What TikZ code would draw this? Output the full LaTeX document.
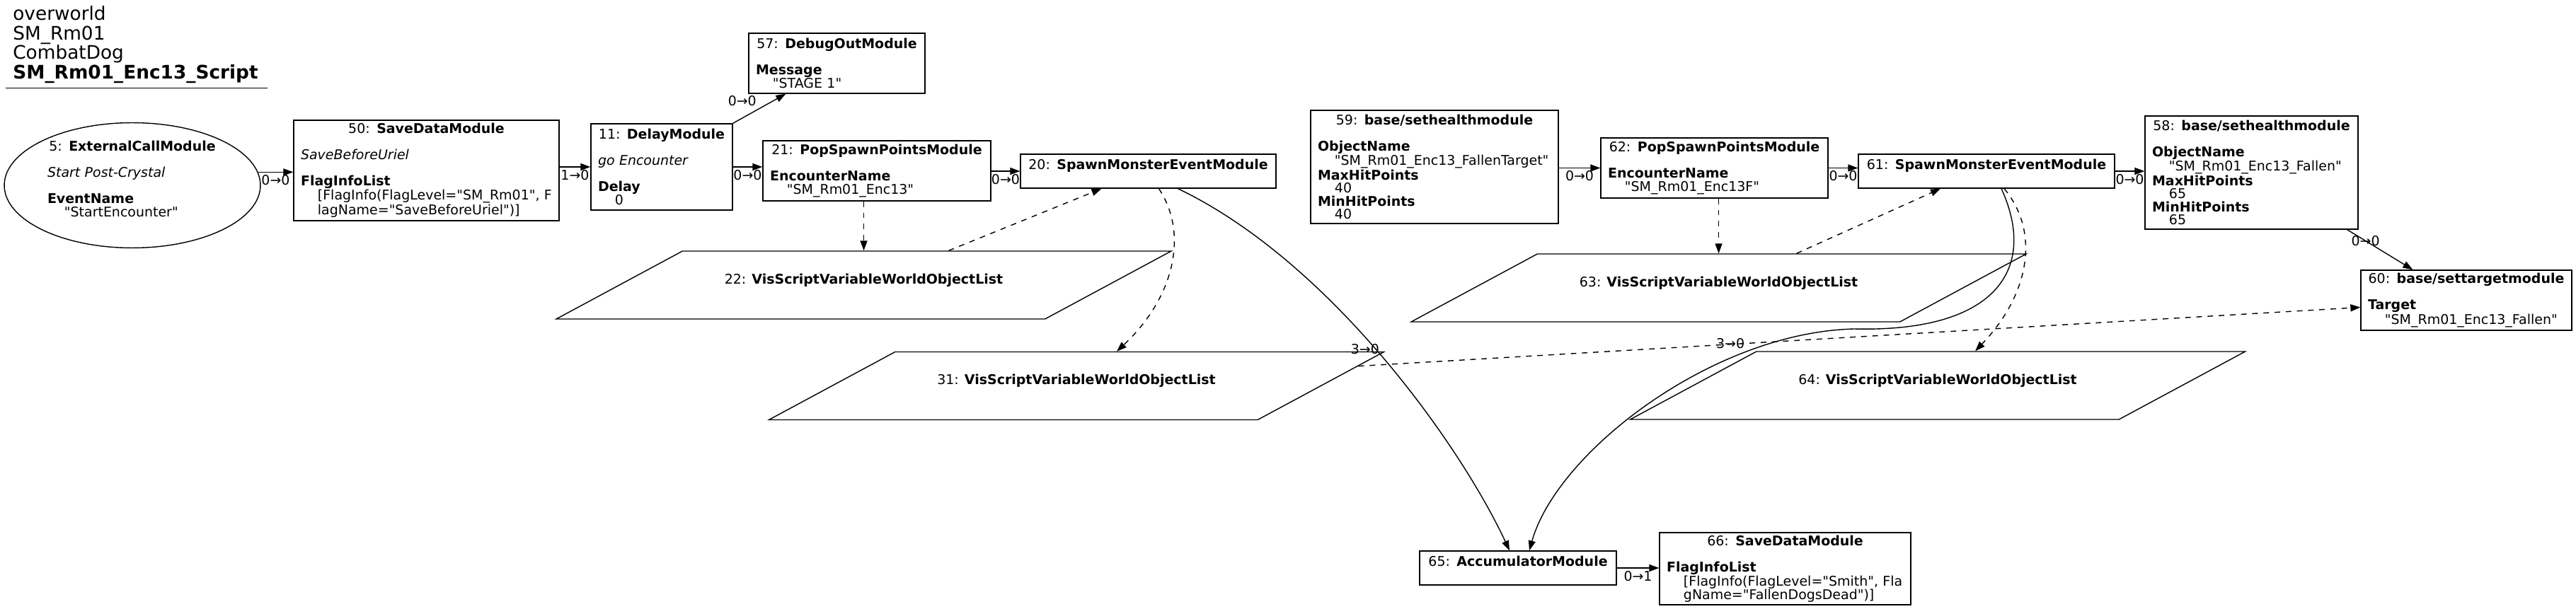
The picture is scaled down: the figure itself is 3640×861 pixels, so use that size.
\documentclass[tikz,border=0pt]{standalone}
\usepackage{fontspec}
\setmainfont{DejaVu Sans}[Ligatures=TeXOff]
\usepackage{tikz}
\usetikzlibrary{shapes.geometric,arrows.meta,calc}
\newcommand{\nodefont}{\fontsize{10.8pt}{10.5pt}\selectfont}
\newcommand{\ttl}[1]{\makebox[\hsize]{#1}}
\newcommand{\pv}[1]{\hspace*{13.6pt}\mbox{#1}}

\begin{document}
\begin{tikzpicture}[x=0.02cm, y=-0.02cm, >={Triangle[length=0.28cm,width=0.2cm]},
  every node/.style={font=\nodefont},
  module/.style 2 args={draw, line width=0.8pt, inner xsep=0.2cm, inner ysep=0pt, align=left, text width=#1, minimum height=#2},
  vislist/.style={draw, line width=0.8pt, trapezium, trapezium left angle=28.3, trapezium right angle=151.7, trapezium stretches body, minimum width=17.38cm, inner xsep=0pt, inner ysep=18.2pt, text height=8pt, text depth=10.2pt},
  link/.style={->, line width=0.8pt},
  varlink/.style={link, dash pattern=on 4.5pt off 4.5pt},
  port/.style={inner sep=2pt}]
\useasboundingbox (0,0) rectangle (3640,861);

\node[anchor=north west, align=left, inner sep=0pt, font=\fontsize{15pt}{15.8pt}\selectfont] (title) at (18,8) {overworld\\SM\_Rm01\\CombatDog\\\textbf{SM\_Rm01\_Enc13\_Script}};
\draw[line width=0.8pt] ($(title.south west)+(-10,6)$) -- ($(title.south east)+(13,6)$);

\node[draw, ellipse, line width=0.8pt, minimum width=7.24cm, minimum height=3.08cm, inner sep=0pt, text width=4.8cm, align=left] (n5) at (187,262) {\ttl{5: \textbf{ExternalCallModule}}\\[\baselineskip]\textit{Start Post-Crystal}\\[\baselineskip]\textbf{EventName}\\\pv{"StartEncounter"}\\\mbox{}};
\node[module={7.10cm}{2.84cm}] (n50) at (602.5,241) {\ttl{50: \textbf{SaveDataModule}}\\[\baselineskip]\textit{SaveBeforeUriel}\\[\baselineskip]\textbf{FlagInfoList}\\\pv{[FlagInfo(FlagLevel="SM\_Rm01", F}\\\pv{lagName="SaveBeforeUriel")]}};
\node[module={3.60cm}{2.44cm}] (n11) at (935,236) {\ttl{11: \textbf{DelayModule}}\\[\baselineskip]\textit{go Encounter}\\[\baselineskip]\textbf{Delay}\\\pv{0}};
\node[module={4.58cm}{1.70cm}] (n57) at (1182.5,89.5) {\ttl{57: \textbf{DebugOutModule}}\\[\baselineskip]\textbf{Message}\\\pv{"STAGE 1"}};
\node[module={6.04cm}{1.70cm}] (n21) at (1239,241.5) {\ttl{21: \textbf{PopSpawnPointsModule}}\\[\baselineskip]\textbf{EncounterName}\\\pv{"SM\_Rm01\_Enc13"}};
\node[module={6.82cm}{0.96cm}] (n20) at (1622.5,242) {\ttl{20: \textbf{SpawnMonsterEventModule}}\\\mbox{}};
\node[vislist] (n22) at (1220.5,403) {22: \textbf{VisScriptVariableWorldObjectList}};
\node[vislist] (n31) at (1521,545.5) {31: \textbf{VisScriptVariableWorldObjectList}};
\node[module={6.60cm}{3.20cm}] (n59) at (2027,236) {\ttl{59: \textbf{base/sethealthmodule}}\\[\baselineskip]\textbf{ObjectName}\\\pv{"SM\_Rm01\_Enc13\_FallenTarget"}\\\textbf{MaxHitPoints}\\\pv{40}\\\textbf{MinHitPoints}\\\pv{40}};
\node[module={6.02cm}{1.70cm}] (n62) at (2422.5,237.5) {\ttl{62: \textbf{PopSpawnPointsModule}}\\[\baselineskip]\textbf{EncounterName}\\\pv{"SM\_Rm01\_Enc13F"}};
\node[module={6.84cm}{0.96cm}] (n61) at (2807,242) {\ttl{61: \textbf{SpawnMonsterEventModule}}\\\mbox{}};
\node[module={5.62cm}{3.20cm}] (n58) at (3181.5,244) {\ttl{58: \textbf{base/sethealthmodule}}\\[\baselineskip]\textbf{ObjectName}\\\pv{"SM\_Rm01\_Enc13\_Fallen"}\\\textbf{MaxHitPoints}\\\pv{65}\\\textbf{MinHitPoints}\\\pv{65}};
\node[module={5.56cm}{1.70cm}] (n60) at (3485,424.5) {\ttl{60: \textbf{base/settargetmodule}}\\[\baselineskip]\textbf{Target}\\\pv{"SM\_Rm01\_Enc13\_Fallen"}};
\node[vislist] (n63) at (2428.5,407) {63: \textbf{VisScriptVariableWorldObjectList}};
\node[vislist] (n64) at (2738,545) {64: \textbf{VisScriptVariableWorldObjectList}};
\node[module={5.16cm}{0.96cm}] (n65) at (2145,803) {\ttl{65: \textbf{AccumulatorModule}}\\\mbox{}};
\node[module={6.70cm}{2.04cm}] (n66) at (2522.5,804) {\ttl{66: \textbf{SaveDataModule}}\\[\baselineskip]\textbf{FlagInfoList}\\\pv{[FlagInfo(FlagLevel="Smith", Fla}\\\pv{gName="FallenDogsDead")]}};

\draw[link] (n5.6) -- (n5.6 -| n50.west) node[port, midway, below] {0→0};
\draw[link] (n50.east |- n11.west) -- (n11.west) node[port, midway, below] {1→0};
\draw[link] (n11.north east) -- ($(n57.south west)+(53,0)$) node[port, midway, above left] {0→0};
\draw[link] (n11.east) -- (n11.east -| n21.west) node[port, midway, below] {0→0};
\draw[link] (n21.east |- n20.west) -- (n20.west) node[port, midway, below] {0→0};
\draw[varlink] (n21.south -| n22.north) -- (n22.north);
\draw[varlink] ($(n22.north)+(120,0)$) -- ($(n20.south)+(-66,0)$);
\draw[varlink] ($(n20.south)+(15,0)$) .. controls +(42,63) and +(82,-77) .. ($(n31.north)+(57,0)$);
\draw[link] ($(n20.south)+(42,0)$) .. controls +(215,103) and +(-70,-150) .. ($(n65.north)+(-12,0)$) node[port, pos=0.5, above left] {3→0};
\draw[varlink] (n31.4) -- ($(n60.west)+(0,10)$);
\draw[link] (n59.east |- n62.west) -- (n62.west) node[port, midway, below] {0→0};
\draw[varlink] (n62.south -| n63.north) -- (n63.north);
\draw[varlink] ($(n63.north)+(110,0)$) -- ($(n61.south)+(-65,0)$);
\draw[link] (n62.east) -- (n62.east -| n61.west) node[port, midway, below] {0→0};
\draw[varlink] ($(n61.south)+(25,0)$) .. controls +(53,64) and +(74,-77) .. ($(n64.north)+(53,0)$);
\draw[link] ($(n61.south)+(21,0)$) .. controls +(52,114) and +(200,5) .. (2620,465) .. controls +(-200,5) and +(39,-139) .. ($(n65.north)+(16,0)$) node[port, pos=0.25, above left] {3→0};
\draw[link] (n61.east) -- (n61.east -| n58.west) node[port, midway, below] {0→0};
\draw[link] ($(n58.south east)+(-16,0)$) -- ($(n60.north west)+(74,0)$) node[port, pos=0.28] {0→0};
\draw[link] (n65.east) -- (n65.east -| n66.west) node[port, midway, below] {0→1};
\end{tikzpicture}
\end{document}
